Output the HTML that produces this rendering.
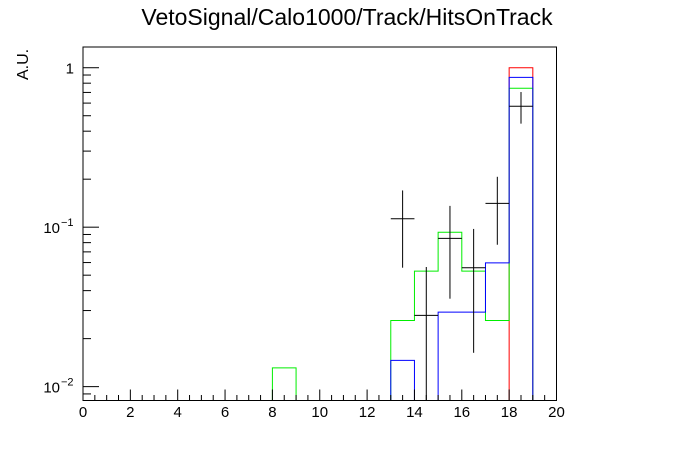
<!DOCTYPE html>
<html><head><meta charset="utf-8"><style>
body{margin:0;background:#fff;}
svg{display:block;font-family:"Liberation Sans",sans-serif;}
</style></head><body>
<svg id="c" width="696" height="472" viewBox="0 0 696 472">
<rect width="696" height="472" fill="#fff"/>
<text x="347" y="25" font-size="23" text-anchor="middle">VetoSignal/Calo1000/Track/HitsOnTrack</text>
<text transform="translate(28,80) rotate(-90)" font-size="16" text-anchor="start">A.U.</text>
<g id="plot"></g>
</svg>
<script>
const binEdgesStart = 0;
const binCount = 20;
const redValues   = [0,0,0,0,0,0,0,0,0,0,0,0,0,0,0,0,0,0,1.0,0];
const blueValues  = [0,0,0,0,0,0,0,0,0,0,0,0,0,0.0146,0,0.0293,0.0293,0.0597,0.87,0];
const greenValues = [0,0,0,0,0,0,0,0,0.0131,0,0,0,0,0.026,0.053,0.093,0.053,0.026,0.743,0];
const dataBins = [13,14,15,16,17,18];
const dataValues = [0.113,0.028,0.085,0.0557,0.141,0.573];
const dataUpper  = [0.170,0.0563,0.136,0.0975,0.207,0.704];
const dataLower  = [0.0557,0,0.0356,0.0163,0.0776,0.446];
const xTickLabels = ["0","2","4","6","8","10","12","14","16","18","20"];

const L=83,R=556.5,T=47,B=400.5;
const xmin=0,xmax=20,lymin=-2.087,lymax=0.13;
const NS="http://www.w3.org/2000/svg";
const g=document.getElementById('plot');
function X(v){return L+(v-xmin)/(xmax-xmin)*(R-L);}
function Y(v){ if(v<=0) return B; const l=Math.log10(v); const y=B-(l-lymin)/(lymax-lymin)*(B-T); return Math.min(B,Math.max(T,y));}
function mk(tag,attrs){const e=document.createElementNS(NS,tag);for(const k in attrs)e.setAttribute(k,attrs[k]);g.appendChild(e);return e;}

function hist(vals,color,name){
  let d="M"+X(0)+","+B;
  for(let i=0;i<binCount;i++){const x0=X(binEdgesStart+i),x1=X(binEdgesStart+i+1),y=Y(vals[i]);d+=" L"+x0+","+y+" L"+x1+","+y;}
  d+=" L"+X(binCount)+","+B;
  const p=mk('path',{d:d,fill:'none',stroke:color,'stroke-width':1});
  
  
}
hist(redValues,'#ff0000','red-histogram');
hist(greenValues,'#00ee00','green-histogram');
hist(blueValues,'#0000ff','blue-histogram');

for(let i=0;i<dataBins.length;i++){
  const b=dataBins[i],cx=X(b+0.5),y=Y(dataValues[i]);
  const h=mk('line',{x1:X(b),x2:X(b+1),y1:y,y2:y,stroke:'#000','stroke-width':1});
  
  
  const v=mk('line',{x1:cx,x2:cx,y1:Y(dataUpper[i]),y2:Y(dataLower[i]),stroke:'#000','stroke-width':1});
  
  
}

const fr=mk('rect',{x:L,y:T,width:R-L,height:B-T,fill:'none',stroke:'#000','stroke-width':1});



for(let v=0;v<=20.001;v+=0.5){
  const major=Math.abs(v/2-Math.round(v/2))<1e-6;
  const t=mk('line',{x1:X(v),x2:X(v),y1:B,y2:B-(major?11:5.5),stroke:'#000','stroke-width':1});
  
  
}
xTickLabels.forEach(s=>{
  const t=mk('text',{x:X(parseFloat(s)),y:417,'font-size':15,'text-anchor':'middle'});
  t.textContent=s;
  
  
});
for(let e=-3;e<=0;e++){
  for(let m=1;m<=9;m++){
    const v=m*Math.pow(10,e);
    const l=Math.log10(v); if(l<lymin||l>lymax) continue;
    const y=Y(v);
    const t=mk('line',{x1:L,x2:L+(m===1?16:8),y1:y,y2:y,stroke:'#000','stroke-width':1});
    
    
  }
}
[[1,"1",""],[0.1,"10","−1"],[0.01,"10","−2"]].forEach(a=>{
  const y=Y(a[0]);
  const t=mk('text',{x:a[2]?60:74,y:y+6,'font-size':15,'text-anchor':'end'});
  t.textContent=a[1];
  
  
  if(a[2]){const s=mk('text',{x:61,y:y-1,'font-size':11});s.textContent=a[2];
    
    }
});
</script>
</body></html>
